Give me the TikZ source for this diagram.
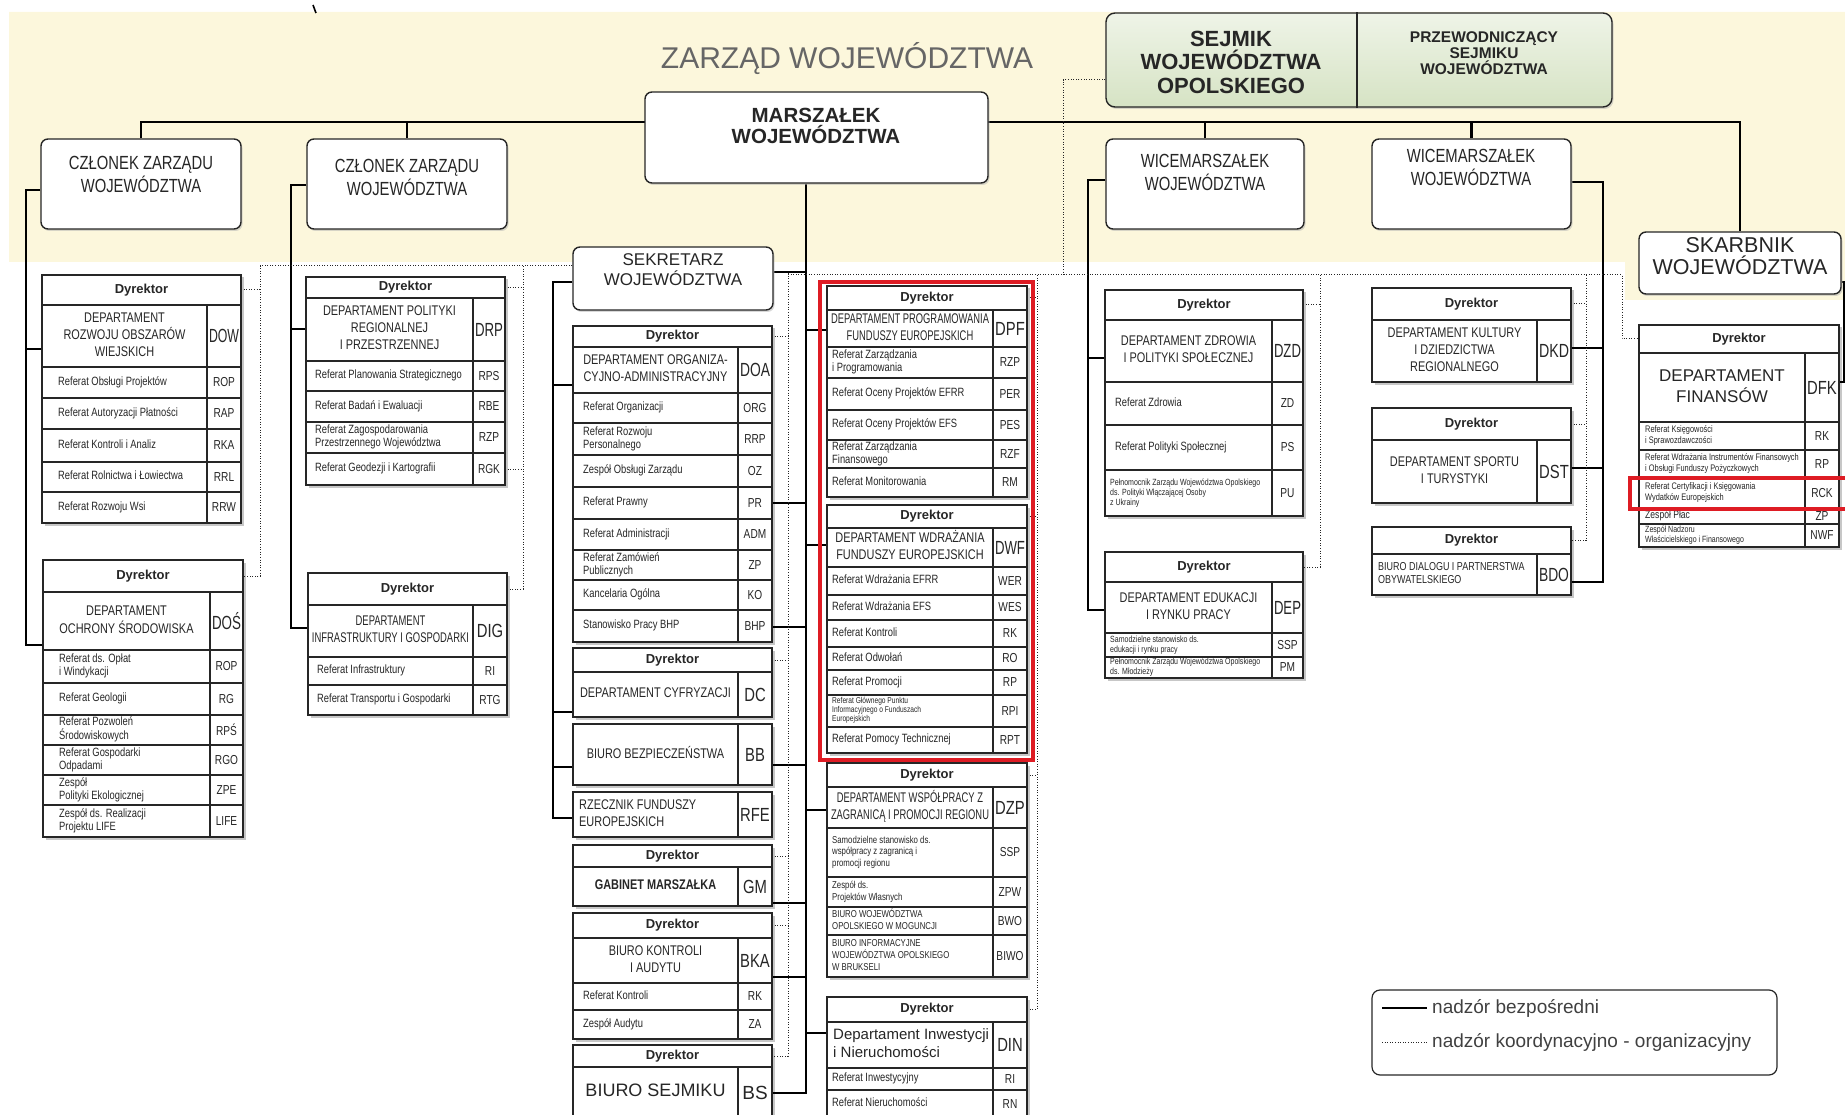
\documentclass[tikz,border=0pt]{standalone}
\usepackage{fontspec}
\usepackage{graphicx}
\setmainfont{Liberation Sans}
\newfontfamily\nf[FakeStretch=0.78]{Liberation Sans}
\usetikzlibrary{calc,shadows}
\pgfdeclarelayer{back}
\pgfdeclarelayer{lines}
\pgfsetlayers{back,lines,main}
\definecolor{bandY}{RGB}{252,247,220}
\definecolor{sejG}{RGB}{214,227,196}
\definecolor{ink}{RGB}{38,38,38}
\definecolor{redH}{RGB}{222,28,36}
\newsavebox\fitbx
\newcommand\fitto[2]{\sbox\fitbx{#2}\ifdim\wd\fitbx>#1\relax\resizebox{#1}{\height}{\usebox\fitbx}\else\usebox\fitbx\fi}
\newcommand\hdrfont{\normalfont\bfseries\fontsize{13}{15}\selectfont}
\newcommand\depfont{\nf\fontsize{14}{17}\selectfont}
\newcommand\subfont{\nf\fontsize{12}{13}\selectfont}
\newcommand\codefont{\nf\fontsize{19}{21}\selectfont}
\newcommand\scodefont{\nf\fontsize{13}{14}\selectfont}
\def\dextra{}\def\sextra{}\def\rin{10}
\tikzset{
  cellbox/.style={draw=ink, line width=1.1pt, inner sep=0pt, outer sep=0pt, text=ink, fill=white},
  ctext/.style={inner sep=0pt, text=ink},
  rbox/.style={draw=ink, line width=1.4pt, rounded corners=7pt, fill=white, inner sep=0pt,
    drop shadow={shadow xshift=1.5pt, shadow yshift=-2pt, fill=black!30}},
  sup/.style={draw=black, line width=2.6pt},
  coord/.style={draw=black!85, line width=1pt, dash pattern=on 1pt off 1.6pt},
  toptext/.style={align=center, text=ink, inner sep=0pt},
  memtext/.style={toptext, font=\nf\fontsize{19}{23}\selectfont},
  legt/.style={inner sep=0pt, text=black!75, font=\fontsize{19}{21}\selectfont},
  tshade/.style={fill=black!22},
}
\newcommand\tshadow[4]{\begin{pgfonlayer}{back}\fill[tshade] ({#1+2.5},{#2+2.5}) rectangle ({#3+2.5},{#4+2.5});\end{pgfonlayer}}
\newcommand\hdrow[5]{\node[cellbox, minimum width={#3-#2}, minimum height={#5-#4}] (#1) at ({(#2+#3)/2},{(#4+#5)/2}) {\hdrfont Dyrektor};}
\newcommand\deprow[9]{%
  \node[cellbox, minimum width={#3-#2}, minimum height={#6-#5}] (#1) at ({(#2+#3)/2},{(#5+#6)/2}) {};
  \pgfmathsetmacro\fw{#3-#2-8}%
  \if l#9
    \node[ctext, anchor=west] (#1t) at ({#2+6},{(#5+#6)/2}) {\fitto{\fw pt}{\depfont\dextra\begin{tabular}{@{}l@{}}#7\end{tabular}}};
  \else
    \node[ctext] (#1t) at (#1.center) {\fitto{\fw pt}{\depfont\dextra\begin{tabular}{@{}c@{}}#7\end{tabular}}};
  \fi
  \pgfmathsetmacro\fw{#4-#3-4}%
  \node[cellbox, minimum width={#4-#3}, minimum height={#6-#5}] (#1c) at ({(#3+#4)/2},{(#5+#6)/2}) {\fitto{\fw pt}{\codefont #8}};}
\newcommand\subrow[8]{%
  \node[cellbox, minimum width={#3-#2}, minimum height={#6-#5}] (#1) at ({(#2+#3)/2},{(#5+#6)/2}) {};
  \pgfmathsetmacro\fw{#3-#2-\rin-3}%
  \node[ctext, anchor=west] (#1t) at ({#2+\rin},{(#5+#6)/2}) {\fitto{\fw pt}{\subfont\sextra\begin{tabular}{@{}l@{}}#7\end{tabular}}};
  \pgfmathsetmacro\fw{#4-#3-4}%
  \node[cellbox, minimum width={#4-#3}, minimum height={#6-#5}] (#1c) at ({(#3+#4)/2},{(#5+#6)/2}) {\fitto{\fw pt}{\scodefont #8}};}
\begin{document}
\begin{tikzpicture}[x=1pt,y=-1pt]
\useasboundingbox (0,0) rectangle (1845,1115);
\begin{pgfonlayer}{back}
\fill[bandY] (9,12) -- (1845,12) -- (1845,300) -- (1625,300) -- (1625,262) -- (9,262) -- cycle;
\end{pgfonlayer}
\draw[line width=1.6pt] (313,5) -- (316,13);

% ---------- top level ----------
\node[font=\fontsize{30}{32}\selectfont, text=black!60, inner sep=0pt] (zarzad) at (847,59) {ZARZĄD WOJEWÓDZTWA};
\node[draw=ink, line width=1.4pt, rounded corners=9pt, top color=sejG!40!white, bottom color=sejG,
  minimum width=506, minimum height=94, inner sep=0pt,
  drop shadow={shadow xshift=1.5pt, shadow yshift=-2pt, fill=black!30}] (sejmik) at (1359,60) {};
\draw[ink, line width=1.3pt] (sejmik.north -| 1357,0) -- (sejmik.south -| 1357,0);
\node[toptext, font=\bfseries\fontsize{22}{23.5}\selectfont] (sejT) at (1231,62) {SEJMIK\\WOJEWÓDZTWA\\OPOLSKIEGO};
\node[toptext, font=\bfseries\fontsize{15.5}{16}\selectfont] (przT) at (1484,53) {PRZEWODNICZĄCY\\SEJMIKU\\WOJEWÓDZTWA};

\node[rbox, minimum width=343, minimum height=91] (marsz) at (816.5,137.5) {};
\node[toptext, font=\bfseries\fontsize{20.5}{21.5}\selectfont] (marszT) at (816,126) {MARSZAŁEK\\WOJEWÓDZTWA};

\node[rbox, minimum width=200, minimum height=90] (cz1) at (141,184) {};
\node[memtext] (cz1T) at (141,174) {CZŁONEK ZARZĄDU\\WOJEWÓDZTWA};
\node[rbox, minimum width=200, minimum height=90] (cz2) at (407,184) {};
\node[memtext] (cz2T) at (407,177) {CZŁONEK ZARZĄDU\\WOJEWÓDZTWA};
\node[rbox, minimum width=198, minimum height=90] (wice1) at (1205,184) {};
\node[memtext] (wice1T) at (1205,172) {WICEMARSZAŁEK\\WOJEWÓDZTWA};
\node[rbox, minimum width=199, minimum height=90] (wice2) at (1471.5,184) {};
\node[memtext] (wice2T) at (1471,167) {WICEMARSZAŁEK\\WOJEWÓDZTWA};
\node[rbox, minimum width=202, minimum height=62] (skarb) at (1740,263) {};
\node[toptext, font=\fontsize{21.5}{22}\selectfont] (skarbT) at (1740,256) {SKARBNIK\\WOJEWÓDZTWA};
\node[rbox, minimum width=200, minimum height=63] (sekr) at (673,278.5) {};
\node[toptext, font=\fontsize{17}{20}\selectfont] (sekrT) at (673,270) {SEKRETARZ\\WOJEWÓDZTWA};

% ---------- table shadows ----------
\tshadow{42}{275}{241}{523}
\tshadow{43}{560}{243}{837}
\tshadow{306}{277}{505}{485}
\tshadow{308}{573}{507}{715}
\tshadow{573}{326}{772}{642}
\tshadow{573}{648}{772}{717}
\tshadow{573}{724}{772}{785}
\tshadow{573}{792}{772}{837}
\tshadow{573}{845}{772}{906}
\tshadow{573}{913}{772}{1039}
\tshadow{573}{1045}{772}{1118}
\tshadow{827}{286}{1027}{497}
\tshadow{827}{505}{1027}{753}
\tshadow{827}{763}{1027}{977}
\tshadow{827}{997}{1027}{1118}
\tshadow{1105}{290}{1303}{516}
\tshadow{1105}{552}{1303}{678}
\tshadow{1372}{288}{1571}{382}
\tshadow{1372}{408}{1571}{503}
\tshadow{1372}{527}{1571}{595}
\tshadow{1639}{325}{1839}{547}

% ---------- column 1 ----------
\def\rin{16}
\hdrow{droH}{42}{241}{275}{305}
\deprow{dro}{42}{207}{241}{305}{367}{DEPARTAMENT\\ROZWOJU OBSZARÓW\\WIEJSKICH}{DOW}{c}
\subrow{dro1}{42}{207}{241}{367}{398}{Referat Obsługi Projektów}{ROP}
\subrow{dro2}{42}{207}{241}{398}{429}{Referat Autoryzacji Płatności}{RAP}
\subrow{dro3}{42}{207}{241}{429}{462}{Referat Kontroli i Analiz}{RKA}
\subrow{dro4}{42}{207}{241}{462}{492}{Referat Rolnictwa i Łowiectwa}{RRL}
\subrow{dro5}{42}{207}{241}{492}{523}{Referat Rozwoju Wsi}{RRW}

\hdrow{dosH}{43}{243}{560}{592}
\deprow{dos}{43}{210}{243}{592}{650}{DEPARTAMENT\\OCHRONY ŚRODOWISKA}{DOŚ}{c}
\subrow{dos1}{43}{210}{243}{650}{683}{Referat ds. Opłat\\i Windykacji}{ROP}
\subrow{dos2}{43}{210}{243}{683}{715}{Referat Geologii}{RG}
\subrow{dos3}{43}{210}{243}{715}{745}{Referat Pozwoleń\\Środowiskowych}{RPŚ}
\subrow{dos4}{43}{210}{243}{745}{775}{Referat Gospodarki\\Odpadami}{RGO}
\subrow{dos5}{43}{210}{243}{775}{805}{Zespół\\Polityki Ekologicznej}{ZPE}
\subrow{dos6}{43}{210}{243}{805}{837}{Zespół ds. Realizacji\\Projektu LIFE}{LIFE}

% ---------- column 2 ----------
\def\rin{9}
\hdrow{drpH}{306}{505}{277}{298}
\deprow{drp}{306}{473}{505}{298}{361}{DEPARTAMENT POLITYKI\\REGIONALNEJ\\I PRZESTRZENNEJ}{DRP}{c}
\subrow{drp1}{306}{473}{505}{361}{391}{Referat Planowania Strategicznego}{RPS}
\subrow{drp2}{306}{473}{505}{391}{422}{Referat Badań i Ewaluacji}{RBE}
\subrow{drp3}{306}{473}{505}{422}{453}{Referat Zagospodarowania\\Przestrzennego Województwa}{RZP}
\subrow{drp4}{306}{473}{505}{453}{485}{Referat Geodezji i Kartografii}{RGK}
\hdrow{digH}{308}{507}{573}{605}
\deprow{dig}{308}{473}{507}{605}{657}{DEPARTAMENT\\INFRASTRUKTURY I GOSPODARKI}{DIG}{c}
\subrow{dig1}{308}{473}{507}{657}{685}{Referat Infrastruktury}{RI}
\subrow{dig2}{308}{473}{507}{685}{715}{Referat Transportu i Gospodarki}{RTG}

% ---------- column 3 ----------
\def\rin{10}
\hdrow{doaH}{573}{772}{326}{347}
\deprow{doa}{573}{738}{772}{347}{393}{DEPARTAMENT ORGANIZA-\\CYJNO-ADMINISTRACYJNY}{DOA}{c}
\subrow{doa1}{573}{738}{772}{393}{423}{Referat Organizacji}{ORG}
\subrow{doa2}{573}{738}{772}{423}{455}{Referat Rozwoju\\Personalnego}{RRP}
\subrow{doa3}{573}{738}{772}{455}{487}{Zespół Obsługi Zarządu}{OZ}
\subrow{doa4}{573}{738}{772}{487}{519}{Referat Prawny}{PR}
\subrow{doa5}{573}{738}{772}{519}{550}{Referat Administracji}{ADM}
\subrow{doa6}{573}{738}{772}{550}{580}{Referat Zamówień\\Publicznych}{ZP}
\subrow{doa7}{573}{738}{772}{580}{610}{Kancelaria Ogólna}{KO}
\subrow{doa8}{573}{738}{772}{610}{642}{Stanowisko Pracy BHP}{BHP}
\hdrow{dcH}{573}{772}{648}{672}
\deprow{dc}{573}{738}{772}{672}{717}{DEPARTAMENT CYFRYZACJI}{DC}{c}
\deprow{bb}{573}{738}{772}{724}{785}{BIURO BEZPIECZEŃSTWA}{BB}{c}
\deprow{rfe}{573}{738}{772}{792}{837}{RZECZNIK FUNDUSZY\\EUROPEJSKICH}{RFE}{l}
\hdrow{gmH}{573}{772}{845}{867}
\deprow{gm}{573}{738}{772}{867}{906}{\bfseries GABINET MARSZAŁKA}{GM}{c}
\hdrow{bkaH}{573}{772}{913}{938}
\deprow{bka}{573}{738}{772}{938}{983}{BIURO KONTROLI\\I AUDYTU}{BKA}{c}
\subrow{bka1}{573}{738}{772}{983}{1010}{Referat Kontroli}{RK}
\subrow{bka2}{573}{738}{772}{1010}{1039}{Zespół Audytu}{ZA}
\hdrow{bsH}{573}{772}{1045}{1067}
\deprow{bs}{573}{738}{772}{1067}{1118}{{\normalfont\fontsize{18}{20}\selectfont BIURO SEJMIKU}}{{\normalfont\fontsize{19}{21}\selectfont BS}}{c}

% ---------- column 4 ----------
\def\rin{5}
\hdrow{dpfH}{827}{1027}{286}{310}
\deprow{dpf}{827}{993}{1027}{310}{347}{DEPARTAMENT PROGRAMOWANIA\\FUNDUSZY EUROPEJSKICH}{DPF}{c}
\subrow{dpf1}{827}{993}{1027}{347}{378}{Referat Zarządzania\\i Programowania}{RZP}
\subrow{dpf2}{827}{993}{1027}{378}{410}{Referat Oceny Projektów EFRR}{PER}
\subrow{dpf3}{827}{993}{1027}{410}{440}{Referat Oceny Projektów EFS}{PES}
\subrow{dpf4}{827}{993}{1027}{440}{468}{Referat Zarządzania\\Finansowego}{RZF}
\subrow{dpf5}{827}{993}{1027}{468}{497}{Referat Monitorowania}{RM}
\hdrow{dwfH}{827}{1027}{505}{528}
\deprow{dwf}{827}{993}{1027}{528}{567}{DEPARTAMENT WDRAŻANIA\\FUNDUSZY EUROPEJSKICH}{DWF}{c}
\subrow{dwf1}{827}{993}{1027}{567}{595}{Referat Wdrażania EFRR}{WER}
\subrow{dwf2}{827}{993}{1027}{595}{620}{Referat Wdrażania EFS}{WES}
\subrow{dwf3}{827}{993}{1027}{620}{647}{Referat Kontroli}{RK}
\subrow{dwf4}{827}{993}{1027}{647}{670}{Referat Odwołań}{RO}
\subrow{dwf5}{827}{993}{1027}{670}{695}{Referat Promocji}{RP}
\def\sextra{\fontsize{8.5}{9}\selectfont}
\subrow{dwf6}{827}{993}{1027}{695}{727}{Referat Głównego Punktu\\Informacyjnego o Funduszach\\Europejskich}{RPI}
\def\sextra{}
\subrow{dwf7}{827}{993}{1027}{727}{753}{Referat Pomocy Technicznej}{RPT}
\hdrow{dzpH}{827}{1027}{763}{787}
\deprow{dzp}{827}{993}{1027}{787}{828}{DEPARTAMENT WSPÓŁPRACY Z\\ZAGRANICĄ I PROMOCJI REGIONU}{DZP}{c}
\def\sextra{\fontsize{10}{11.5}\selectfont}
\subrow{dzp1}{827}{993}{1027}{828}{877}{Samodzielne stanowisko ds.\\współpracy z zagranicą i\\promocji regionu}{SSP}
\subrow{dzp2}{827}{993}{1027}{877}{907}{Zespół ds.\\Projektów Własnych}{ZPW}
\subrow{dzp3}{827}{993}{1027}{907}{935}{BIURO WOJEWÓDZTWA\\OPOLSKIEGO W MOGUNCJI}{BWO}
\subrow{dzp4}{827}{993}{1027}{935}{977}{BIURO INFORMACYJNE\\WOJEWÓDZTWA OPOLSKIEGO\\W BRUKSELI}{BIWO}
\def\sextra{}
\hdrow{dinH}{827}{1027}{997}{1022}
\def\dextra{\normalfont\fontsize{15}{18}\selectfont}
\deprow{din}{827}{993}{1027}{1022}{1068}{Departament Inwestycji\\i Nieruchomości}{DIN}{l}
\def\dextra{}
\subrow{din1}{827}{993}{1027}{1068}{1090}{Referat Inwestycyjny}{RI}
\subrow{din2}{827}{993}{1027}{1090}{1118}{Referat Nieruchomości}{RN}

% ---------- column 5 ----------
\def\rin{10}
\hdrow{dzdH}{1105}{1303}{290}{320}
\deprow{dzd}{1105}{1272}{1303}{320}{382}{DEPARTAMENT ZDROWIA\\I POLITYKI SPOŁECZNEJ}{DZD}{c}
\subrow{dzd1}{1105}{1272}{1303}{382}{425}{Referat Zdrowia}{ZD}
\subrow{dzd2}{1105}{1272}{1303}{425}{470}{Referat Polityki Społecznej}{PS}
\def\rin{5}
\def\sextra{\fontsize{9}{10}\selectfont}
\subrow{dzd3}{1105}{1272}{1303}{470}{516}{Pełnomocnik Zarządu Województwa Opolskiego\\ds. Polityki Włączającej Osoby\\z Ukrainy}{PU}
\hdrow{depH}{1105}{1303}{552}{582}
\deprow{dep}{1105}{1272}{1303}{582}{633}{DEPARTAMENT EDUKACJI\\I RYNKU PRACY}{DEP}{c}
\subrow{dep1}{1105}{1272}{1303}{633}{657}{Samodzielne stanowisko ds.\\edukacji i rynku pracy}{SSP}
\subrow{dep2}{1105}{1272}{1303}{657}{678}{Pełnomocnik Zarządu Województwa Opolskiego\\ds. Młodzieży}{PM}
\def\sextra{}

% ---------- column 6 ----------
\hdrow{dkdH}{1372}{1571}{288}{320}
\deprow{dkd}{1372}{1537}{1571}{320}{382}{DEPARTAMENT KULTURY\\I DZIEDZICTWA\\REGIONALNEGO}{DKD}{c}
\hdrow{dstH}{1372}{1571}{408}{440}
\deprow{dst}{1372}{1537}{1571}{440}{503}{DEPARTAMENT SPORTU\\I TURYSTYKI}{DST}{c}
\hdrow{bdoH}{1372}{1571}{527}{554}
\def\dextra{\fontsize{11.5}{13}\selectfont}
\deprow{bdo}{1372}{1537}{1571}{554}{595}{BIURO DIALOGU I PARTNERSTWA\\OBYWATELSKIEGO}{BDO}{l}
\def\dextra{}

% ---------- column 7 ----------
\def\rin{6}
\hdrow{dfkH}{1639}{1839}{325}{353}
\def\dextra{\normalfont\fontsize{17}{21}\selectfont}
\deprow{dfk}{1639}{1805}{1839}{353}{422}{DEPARTAMENT\\FINANSÓW}{DFK}{c}
\def\dextra{}
\def\sextra{\fontsize{9.5}{10.5}\selectfont}
\subrow{dfk1}{1639}{1805}{1839}{422}{450}{Referat Księgowości\\i Sprawozdawczości}{RK}
\subrow{dfk2}{1639}{1805}{1839}{450}{478}{Referat Wdrażania Instrumentów Finansowych\\i Obsługi Funduszy Pożyczkowych}{RP}
\subrow{dfk3}{1639}{1805}{1839}{478}{508}{Referat Certyfikacji i Księgowania\\Wydatków Europejskich}{RCK}
\def\sextra{\fontsize{11}{12}\selectfont}
\subrow{dfk4}{1639}{1805}{1839}{508}{524}{Zespół Płac}{ZP}
\def\sextra{\fontsize{9}{9.8}\selectfont}
\subrow{dfk5}{1639}{1805}{1839}{524}{547}{Zespół Nadzoru\\Właścicielskiego i Finansowego}{NWF}
\def\sextra{}

% ---------- highlights ----------
\node[draw=redH, line width=4pt, minimum width=213, minimum height=478, inner sep=0pt] (hl1) at (926.5,521) {};
\node[draw=redH, line width=4pt, minimum width=222, minimum height=31, inner sep=0pt] (hl2) at (1741,493) {};

% ---------- legend ----------
\node[draw=ink, line width=1.2pt, rounded corners=8pt, minimum width=405, minimum height=85, inner sep=0pt] (leg) at (1574.5,1032.5) {};
\coordinate (l1a) at (1382,1008); \coordinate (l1b) at (1427,1008);
\coordinate (l2a) at (1382,1042); \coordinate (l2b) at (1427,1042);
\node[legt, anchor=west] (leg1) at (1432,1008) {nadzór bezpośredni};
\node[legt, anchor=west] (leg2) at (1432,1042) {nadzór koordynacyjno - organizacyjny};

% ---------- connectors ----------
\coordinate (bar) at (816,122);
\coordinate (t1) at (26,0); \coordinate (t2) at (291,0); \coordinate (t3) at (553,0);
\coordinate (tm) at (806,0); \coordinate (t5) at (1088,0); \coordinate (t6) at (1603,0);
\coordinate (t7) at (1844,0);
\coordinate (d1) at (260,0); \coordinate (d2) at (523,0); \coordinate (d3) at (788,0);
\coordinate (d4) at (1037,0); \coordinate (d5) at (1320,0); \coordinate (d6) at (1586,0);
\coordinate (d7) at (1622,0); \coordinate (ds) at (1063,0);
\begin{pgfonlayer}{lines}
% direct supervision
\draw[sup] (cz1.north) |- (bar) -| (skarb.north);
\draw[sup] (cz2.north) -- (cz2.north |- bar);
\draw[sup] (wice1.north) -- (wice1.north |- bar);
\draw[sup] (wice2.north) -- (wice2.north |- bar);
\draw[sup] (cz1.west |- 0,190) -| (t1 |- 0,645) -- (dos.west |- 0,645);
\draw[sup] (dro.west |- 0,349) -- (t1 |- 0,349);
\draw[sup] (cz2.west |- 0,185) -| (t2 |- 0,628) -- (dig.west |- 0,628);
\draw[sup] (drp.west |- 0,329) -- (t2 |- 0,329);
\draw[sup] (sekr.west |- 0,282) -| (t3 |- 0,818) -- (rfe.west |- 0,818);
\draw[sup] (doa.west |- 0,385) -- (t3 |- 0,385);
\draw[sup] (dc.west |- 0,712) -- (t3 |- 0,712);
\draw[sup] (bb.west |- 0,767) -- (t3 |- 0,767);
\draw[sup] (marsz.south -| tm) -- (tm |- 0,1093) -- (bsc.east |- 0,1093);
\draw[sup] (sekr.east |- 0,272) -- (tm |- 0,272);
\draw[sup] (doa4c.east |- 0,503) -- (tm |- 0,503);
\draw[sup] (doa8c.east |- 0,627) -- (tm |- 0,627);
\draw[sup] (bbc.east |- 0,765) -- (tm |- 0,765);
\draw[sup] (gmc.east |- 0,903) -- (tm |- 0,903);
\draw[sup] (bkac.east |- 0,977) -- (tm |- 0,977);
\draw[sup] (tm |- 0,330) -- (dpf.west |- 0,330);
\draw[sup] (tm |- 0,545) -- (dwf.west |- 0,545);
\draw[sup] (tm |- 0,810) -- (dzp.west |- 0,810);
\draw[sup] (tm |- 0,1033) -- (din.west |- 0,1033);
\draw[sup] (wice1.west |- 0,180) -| (t5 |- 0,610) -- (dep.west |- 0,610);
\draw[sup] (dzd.west |- 0,358) -- (t5 |- 0,358);
\draw[sup] (wice2.east |- 0,182) -| (t6 |- 0,582) -- (bdoc.east |- 0,582);
\draw[sup] (dkdc.east |- 0,348) -- (t6 |- 0,348);
\draw[sup] (dstc.east |- 0,468) -- (t6 |- 0,468);
\draw[sup] (skarb.east |- 0,282) -| (t7 |- 0,382) -- (dfkc.east |- 0,382);
% coordination
\draw[coord] (sejmik.west |- 0,80) -- (ds |- 0,80) -- (ds |- 0,275);
\draw[coord] (sekr.west |- 0,266) -- (d1 |- 0,266) -- (d1 |- dosH.east) -- (dosH.east);
\draw[coord] (droH.east) -- (d1 |- droH.east);
\draw[coord] (d2 |- 0,266) -- (d2 |- digH.east) -- (digH.east);
\draw[coord] (drpH.east) -- (d2 |- drpH.east);
\draw[coord] (drp4c.east) -- (d2 |- drp4c.east);
\draw[coord] (d3 |- 0,273) -- (d3 |- bsH.east) -- (bsH.east);
\draw[coord] (doaH.east) -- (d3 |- doaH.east);
\draw[coord] (dcH.east) -- (d3 |- dcH.east);
\draw[coord] (gmH.east) -- (d3 |- gmH.east);
\draw[coord] (bkaH.east) -- (d3 |- bkaH.east);
\draw[coord] (d3 |- 0,275) -- (d7 |- 0,275) -- (d7 |- dfkH.west) -- (dfkH.west);
\draw[coord] (d4 |- 0,275) -- (d4 |- dinH.east) -- (dinH.east);
\draw[coord] (dpfH.east) -- (d4 |- dpfH.east);
\draw[coord] (dwfH.east) -- (d4 |- dwfH.east);
\draw[coord] (dzpH.east) -- (d4 |- dzpH.east);
\draw[coord] (d5 |- 0,275) -- (d5 |- depH.east) -- (depH.east);
\draw[coord] (dzdH.east) -- (d5 |- dzdH.east);
\draw[coord] (d6 |- 0,275) -- (d6 |- bdoH.east) -- (bdoH.east);
\draw[coord] (dkdH.east) -- (d6 |- dkdH.east);
\draw[coord] (dstH.east) -- (d6 |- dstH.east);
% legend samples
\draw[sup, line width=2.2pt] (l1a) -- (l1b);
\draw[coord] (l2a) -- (l2b);
\end{pgfonlayer}
\end{tikzpicture}
\end{document}
